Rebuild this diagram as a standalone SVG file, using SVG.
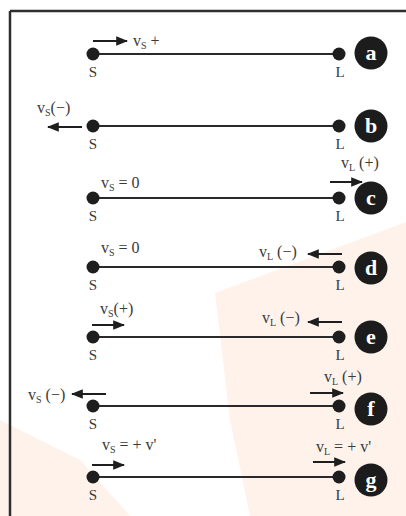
<svg xmlns="http://www.w3.org/2000/svg" width="406" height="516" viewBox="0 0 406 516">
<defs>
<style>
.bg{fill:#fdeadd}
.frame{fill:none;stroke:#2e2e2e;stroke-width:2.5}
.wire{stroke:#2a2a2a;stroke-width:2.2}
.dot{fill:#1e1e1e}
.arr{stroke:#1e1e1e;stroke-width:2;marker-end:url(#ah)}
.node{font-family:"Liberation Serif","Times New Roman",serif;font-size:15px;fill:#3a3a3a;text-anchor:middle}
.lab{font-family:"Liberation Serif","Times New Roman",serif;font-size:16px;fill:#3a3a3a}
.sub{font-size:10px}
.tag{fill:#1c1c1c}
.tagt{font-family:"Liberation Serif","Times New Roman",serif;font-size:22px;font-weight:bold;fill:#ffffff;text-anchor:middle}
</style>
<marker id="ah" viewBox="0 0 10 8" refX="9" refY="4" markerWidth="6" markerHeight="4.8" markerUnits="strokeWidth" orient="auto">
<path d="M0,0 L10,4 L0,8 z" fill="#1e1e1e"/>
</marker>
</defs>
<rect width="406" height="516" fill="#ffffff"/>
<polygon class="bg" points="215,293 406,222 406,516 250,516 230,420" opacity="0.6"/>
<polygon class="bg" points="0,420 80,460 130,516 0,516" opacity="0.6"/>
<path d="M10,11 H406 M10,11 V516" class="frame"/>

<g id="connectors">
<line class="wire" x1="93" y1="54" x2="339" y2="54"/>
<line class="wire" x1="93" y1="126" x2="339" y2="126"/>
<line class="wire" x1="93" y1="198" x2="339" y2="198"/>
<line class="wire" x1="93" y1="267" x2="339" y2="267"/>
<line class="wire" x1="93" y1="337" x2="339" y2="337"/>
<line class="wire" x1="93" y1="406" x2="339" y2="406"/>
<line class="wire" x1="93" y1="477" x2="339" y2="477"/>
</g>

<g id="arrows">
<line class="arr" x1="93" y1="41" x2="127" y2="41"/>
<line class="arr" x1="82" y1="127" x2="48" y2="127"/>
<line class="arr" x1="330" y1="182" x2="362" y2="182"/>
<line class="arr" x1="342" y1="254" x2="308" y2="254"/>
<line class="arr" x1="92" y1="325" x2="124" y2="325"/>
<line class="arr" x1="342" y1="322" x2="308" y2="322"/>
<line class="arr" x1="106" y1="394" x2="72" y2="394"/>
<line class="arr" x1="310" y1="393" x2="343" y2="393"/>
<line class="arr" x1="92" y1="465" x2="124" y2="465"/>
<line class="arr" x1="313" y1="462" x2="345" y2="462"/>
</g>

<g id="row-a">
<circle class="dot" cx="93" cy="54" r="6.5"/><circle class="dot" cx="339" cy="54" r="6.5"/>
<text class="node" x="93" y="77">S</text><text class="node" x="340" y="77">L</text>
<text class="lab" x="133" y="46">v<tspan class="sub" dy="3">S</tspan><tspan dy="-3"> +</tspan></text>
<circle class="tag" cx="371" cy="53" r="16.5"/><text class="tagt" x="371" y="60">a</text>
</g>

<g id="row-b">
<circle class="dot" cx="93" cy="126" r="6.5"/><circle class="dot" cx="339" cy="126" r="6.5"/>
<text class="node" x="93" y="149">S</text><text class="node" x="340" y="149">L</text>
<text class="lab" x="37" y="113">v<tspan class="sub" dy="3">S</tspan><tspan dy="-3">(−)</tspan></text>
<circle class="tag" cx="371" cy="126" r="16.5"/><text class="tagt" x="371" y="133">b</text>
</g>

<g id="row-c">
<circle class="dot" cx="93" cy="198" r="6.5"/><circle class="dot" cx="339" cy="198" r="6.5"/>
<text class="node" x="93" y="221">S</text><text class="node" x="340" y="221">L</text>
<text class="lab" x="101" y="188">v<tspan class="sub" dy="3">S</tspan><tspan dy="-3"> = 0</tspan></text>
<text class="lab" x="341" y="168">v<tspan class="sub" dy="3">L</tspan><tspan dy="-3"> (+)</tspan></text>
<circle class="tag" cx="371" cy="198" r="16.5"/><text class="tagt" x="371" y="205">c</text>
</g>

<g id="row-d">
<circle class="dot" cx="93" cy="267" r="6.5"/><circle class="dot" cx="339" cy="267" r="6.5"/>
<text class="node" x="93" y="290">S</text><text class="node" x="340" y="290">L</text>
<text class="lab" x="101" y="253">v<tspan class="sub" dy="3">S</tspan><tspan dy="-3"> = 0</tspan></text>
<text class="lab" x="259" y="257">v<tspan class="sub" dy="3">L</tspan><tspan dy="-3"> (−)</tspan></text>
<circle class="tag" cx="371" cy="268" r="16.5"/><text class="tagt" x="371" y="275">d</text>
</g>

<g id="row-e">
<circle class="dot" cx="93" cy="337" r="6.5"/><circle class="dot" cx="339" cy="337" r="6.5"/>
<text class="node" x="93" y="360">S</text><text class="node" x="340" y="360">L</text>
<text class="lab" x="100" y="314">v<tspan class="sub" dy="3">S</tspan><tspan dy="-3">(+)</tspan></text>
<text class="lab" x="262" y="323">v<tspan class="sub" dy="3">L</tspan><tspan dy="-3"> (−)</tspan></text>
<circle class="tag" cx="371" cy="337" r="16.5"/><text class="tagt" x="371" y="344">e</text>
</g>

<g id="row-f">
<circle class="dot" cx="93" cy="406" r="6.5"/><circle class="dot" cx="339" cy="406" r="6.5"/>
<text class="node" x="93" y="429">S</text><text class="node" x="340" y="429">L</text>
<text class="lab" x="28" y="400">v<tspan class="sub" dy="3">S</tspan><tspan dy="-3"> (−)</tspan></text>
<text class="lab" x="324" y="382">v<tspan class="sub" dy="3">L</tspan><tspan dy="-3"> (+)</tspan></text>
<circle class="tag" cx="371" cy="409" r="16.5"/><text class="tagt" x="371" y="416">f</text>
</g>

<g id="row-g">
<circle class="dot" cx="93" cy="477" r="6.5"/><circle class="dot" cx="339" cy="477" r="6.5"/>
<text class="node" x="93" y="500">S</text><text class="node" x="340" y="500">L</text>
<text class="lab" x="102" y="450">v<tspan class="sub" dy="3">S</tspan><tspan dy="-3"> = + v'</tspan></text>
<text class="lab" x="316" y="452">v<tspan class="sub" dy="3">L</tspan><tspan dy="-3"> = + v'</tspan></text>
<circle class="tag" cx="371" cy="480" r="16.5"/><text class="tagt" x="371" y="487">g</text>
</g>
</svg>
